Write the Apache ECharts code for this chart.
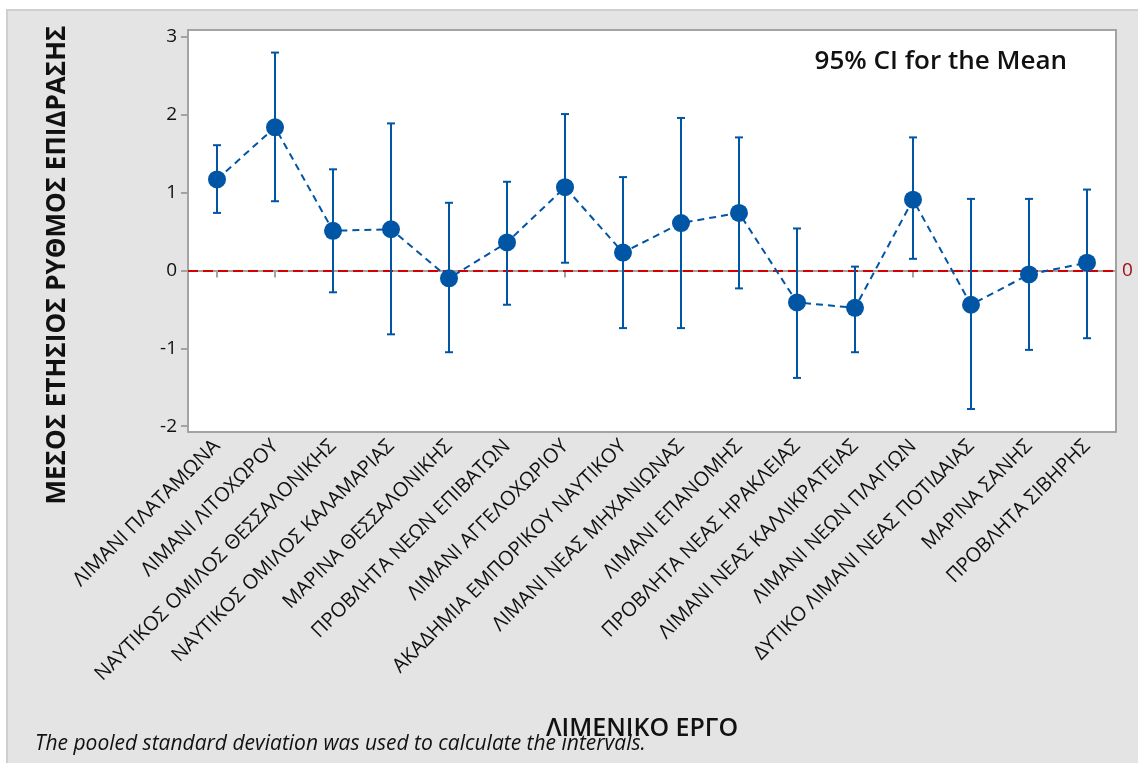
<!DOCTYPE html>
<html>
<head>
<meta charset="utf-8">
<script src="https://cdn.jsdelivr.net/npm/echarts@6/dist/echarts.min.js"></script>
<style>
  html, body { margin: 0; padding: 0; background: #ffffff; }
  #chart { width: 1138px; height: 763px; }
</style>
</head>
<body>
<div id="chart"></div>
<script>
// Port projects (x-axis categories)
const categories = [
  'ΛΙΜΑΝΙ ΠΛΑΤΑΜΩΝΑ',
  'ΛΙΜΑΝΙ ΛΙΤΟΧΩΡΟΥ',
  'ΝΑΥΤΙΚΟΣ ΟΜΙΛΟΣ ΘΕΣΣΑΛΟΝΙΚΗΣ',
  'ΝΑΥΤΙΚΟΣ ΟΜΙΛΟΣ ΚΑΛΑΜΑΡΙΑΣ',
  'ΜΑΡΙΝΑ ΘΕΣΣΑΛΟΝΙΚΗΣ',
  'ΠΡΟΒΛΗΤΑ ΝΕΩΝ ΕΠΙΒΑΤΩΝ',
  'ΛΙΜΑΝΙ ΑΓΓΕΛΟΧΩΡΙΟΥ',
  'ΑΚΑΔΗΜΙΑ ΕΜΠΟΡΙΚΟΥ ΝΑΥΤΙΚΟΥ',
  'ΛΙΜΑΝΙ ΝΕΑΣ ΜΗΧΑΝΙΩΝΑΣ',
  'ΛΙΜΑΝΙ ΕΠΑΝΟΜΗΣ',
  'ΠΡΟΒΛΗΤΑ ΝΕΑΣ ΗΡΑΚΛΕΙΑΣ',
  'ΛΙΜΑΝΙ ΝΕΑΣ ΚΑΛΛΙΚΡΑΤΕΙΑΣ',
  'ΛΙΜΑΝΙ ΝΕΩΝ ΠΛΑΓΙΩΝ',
  'ΔΥΤΙΚΟ ΛΙΜΑΝΙ ΝΕΑΣ ΠΟΤΙΔΑΙΑΣ',
  'ΜΑΡΙΝΑ ΣΑΝΗΣ',
  'ΠΡΟΒΛΗΤΑ ΣΙΒΗΡΗΣ'
];

// Mean annual impact rate per project
const means = [1.17, 1.84, 0.51, 0.53, -0.10, 0.36, 1.07, 0.23, 0.61, 0.74, -0.41, -0.48, 0.91, -0.44, -0.05, 0.10];

// 95% confidence interval bounds (pooled standard deviation)
const lower = [0.74, 0.89, -0.28, -0.82, -1.05, -0.44, 0.10, -0.74, -0.74, -0.23, -1.38, -1.05, 0.15, -1.78, -1.02, -0.87];
const upper = [1.61, 2.80, 1.30, 1.89, 0.87, 1.14, 2.01, 1.20, 1.96, 1.71, 0.54, 0.05, 1.71, 0.92, 0.92, 1.04];

// Value axis tick labels and reference level
const yTicks = [-2, -1, 0, 1, 2, 3];
const referenceLevel = 0;

const BLUE = '#0055a5';
const FONT = '"Open Sans", "Noto Sans", sans-serif';

const intervalData = categories.map((c, i) => [i, lower[i], upper[i]]);

function renderInterval(params, api) {
  const idx = api.value(0);
  const top = api.coord([idx, api.value(2)]);
  const bot = api.coord([idx, api.value(1)]);
  const hw = 4;
  const style = { stroke: BLUE, lineWidth: 2 };
  return {
    type: 'group',
    children: [
      { type: 'line', shape: { x1: top[0], y1: top[1], x2: bot[0], y2: bot[1] }, style },
      { type: 'line', shape: { x1: top[0] - hw, y1: top[1], x2: top[0] + hw, y2: top[1] }, style },
      { type: 'line', shape: { x1: bot[0] - hw, y1: bot[1], x2: bot[0] + hw, y2: bot[1] }, style }
    ]
  };
}

const chart = echarts.init(document.getElementById('chart'), null, { renderer: 'canvas' });

chart.setOption({
  backgroundColor: '#ffffff',
  animation: false,
  textStyle: { fontFamily: FONT },
  graphic: [
    {
      type: 'rect', z: -10, silent: true,
      shape: { x: 7, y: 10, width: 1140, height: 760 },
      style: { fill: '#e4e4e4', stroke: '#cfcfcf', lineWidth: 2 }
    },
    {
      type: 'text', z: 10,
      x: 58, y: 265, rotation: Math.PI / 2,
      style: {
        text: 'ΜΕΣΟΣ ΕΤΗΣΙΟΣ ΡΥΘΜΟΣ ΕΠΙΔΡΑΣΗΣ',
        font: 'bold 26px ' + FONT,
        fill: '#111111', align: 'center', verticalAlign: 'middle'
      }
    },
    {
      type: 'text', z: 10,
      x: 642, y: 729,
      style: {
        text: 'ΛΙΜΕΝΙΚΟ ΕΡΓΟ',
        font: '600 25px ' + FONT,
        fill: '#111111', align: 'center', verticalAlign: 'middle'
      }
    },
    {
      type: 'text', z: 10,
      x: 35, y: 744,
      style: {
        text: 'The pooled standard deviation was used to calculate the intervals.',
        font: 'italic 21px ' + FONT,
        fill: '#111111', align: 'left', verticalAlign: 'middle'
      }
    },
    {
      type: 'text', z: 10,
      x: 1067, y: 62,
      style: {
        text: '95% CI for the Mean',
        font: '600 26px ' + FONT,
        fill: '#111111', align: 'right', verticalAlign: 'middle'
      }
    }
  ],
  grid: {
    left: 188, top: 30, right: 22, bottom: 331,
    show: true, backgroundColor: '#ffffff',
    borderColor: '#a3a3a3', borderWidth: 2
  },
  xAxis: {
    type: 'category',
    data: categories,
    boundaryGap: true,
    axisLine: { show: true, lineStyle: { color: '#a3a3a3', width: 2 } },
    axisTick: { show: true, alignWithLabel: true, length: 7, lineStyle: { color: '#a3a3a3', width: 2 } },
    axisLabel: {
      interval: 0, rotate: 45, margin: 11,
      fontSize: 20, color: '#111111', fontFamily: FONT
    },
    splitLine: { show: false }
  },
  yAxis: {
    type: 'value',
    min: -2.075, max: 3.09,
    axisLine: { show: true, lineStyle: { color: '#a3a3a3', width: 2 } },
    axisTick: { show: true, length: 7, customValues: yTicks, lineStyle: { color: '#a3a3a3', width: 2 } },
    axisLabel: { customValues: yTicks, fontSize: 19, color: '#111111', margin: 11, fontFamily: FONT },
    splitLine: { show: false }
  },
  series: [
    {
      type: 'custom',
      name: 'CI',
      renderItem: renderInterval,
      data: intervalData,
      encode: { x: 0, y: [1, 2] },
      z: 3
    },
    {
      type: 'line',
      name: 'Mean',
      data: means,
      symbol: 'circle',
      symbolSize: 18,
      itemStyle: { color: BLUE },
      lineStyle: { color: BLUE, width: 2, type: [7, 5] },
      z: 4,
      markLine: {
        silent: true,
        symbol: 'none',
        lineStyle: { color: '#d40000', width: 2, type: [10, 5] },
        label: { show: true, position: 'end', distance: 6, formatter: '0', color: '#a01010', fontSize: 19, fontFamily: FONT },
        data: [{ yAxis: referenceLevel }],
        z: 2
      }
    }
  ]
});
</script>
</body>
</html>
